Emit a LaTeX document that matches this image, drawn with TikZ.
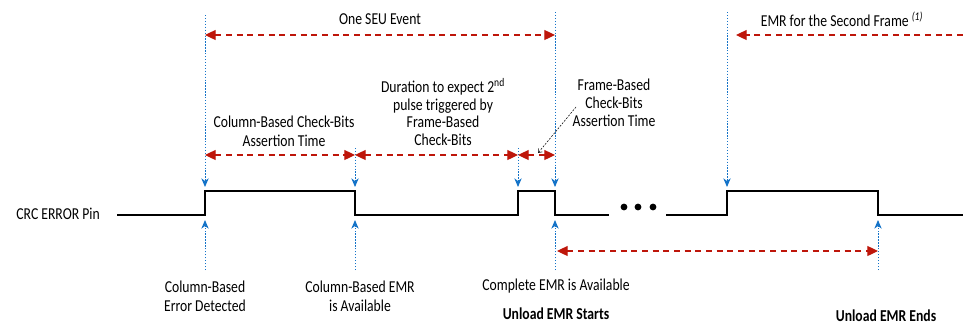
\documentclass[tikz,border=0pt]{standalone}
\usepackage{fontspec}
\setmainfont{Carlito}[FakeStretch=0.82]
\usetikzlibrary{arrows.meta,positioning,calc}
\definecolor{seuRed}{RGB}{190,22,10}
\definecolor{seuBlue}{RGB}{20,115,200}

\begin{document}
\begin{tikzpicture}[
  x=0.75pt, y=-0.75pt,
  lbl/.style={align=center, font=\fontsize{12.5}{14}\selectfont, inner sep=0pt},
  boldlbl/.style={align=center, font=\fontsize{12.5}{14}\selectfont\bfseries, inner sep=0pt},
  span/.style={{Triangle[length=8pt,width=7.5pt]}-{Triangle[length=8pt,width=7.5pt]}, seuRed, line width=0.9pt, dash pattern=on 4.5pt off 3.5pt},
  halfspan/.style={-{Triangle[length=8pt,width=7.5pt]}, seuRed, line width=0.9pt, dash pattern=on 4.5pt off 3.5pt},
  marker/.style={-{Stealth[length=6.5pt,width=5.5pt,inset=2pt]}, seuBlue, line width=0.7pt, dash pattern=on 1pt off 1.2pt},
  leader/.style={-{Straight Barb[length=2.5pt,width=4pt]}, black, thin, dash pattern=on 1.5pt off 1pt},
  signal/.style={line width=2pt, line join=miter}
]
\useasboundingbox (0,0) rectangle (963,326);

% time instants on the signal
\coordinate (t0) at (205,0);
\coordinate (t1) at (355,0);
\coordinate (t2) at (518,0);
\coordinate (t3) at (555,0);
\coordinate (t4) at (727,0);
\coordinate (t5) at (878,0);

% CRC_ERROR waveform
\node[lbl, anchor=east] (pin) at (100,214) {CRC ERROR Pin};
\draw[signal] (117,215) -- (t0 |- 0,215) -- (t0 |- 0,191) -- (t1 |- 0,191) -- (t1 |- 0,215)
  -- (t2 |- 0,215) -- (t2 |- 0,191) -- (t3 |- 0,191) -- (t3 |- 0,215) -- (609,215);
\draw[signal] (666,215) -- (t4 |- 0,215) -- (t4 |- 0,191) -- (t5 |- 0,191) -- (t5 |- 0,215) -- (963,215);
\foreach \dx in {624,638,653}
  \fill (\dx,207) circle (3.4);

% markers from above
\draw[marker] (t0 |- 0,15) -- (t0 |- 0,187);
\draw[marker] (t1 |- 0,148) -- (t1 |- 0,187);
\draw[marker] (t2 |- 0,148) -- (t2 |- 0,187);
\draw[marker] (t3 |- 0,12) -- (t3 |- 0,187);
\draw[marker] (t4 |- 0,12) -- (t4 |- 0,187);

% markers from below
\draw[marker] (t0 |- 0,270) -- (t0 |- 0,220);
\draw[marker] (t1 |- 0,270) -- (t1 |- 0,220);
\draw[marker] (t3 |- 0,270) -- (t3 |- 0,220);
\draw[marker] (t5 |- 0,270) -- (t5 |- 0,220);

% time spans
\node[lbl] (seu) at (380,19) {One SEU Event};
\draw[span] (t0 |- 0,35) -- (t3 |- 0,35);
\node[lbl] (second) at (842,19) {EMR for the Second Frame \textsuperscript{\itshape (1)}};
\coordinate (secondEnd) at (963,35);
\draw[halfspan] (secondEnd) -- (736,35);

\node[lbl, font=\fontsize{12.5}{14.2}\selectfont] (colbits) at (284,131) {Column-Based Check-Bits\\Assertion Time};
\draw[span] (t0 |- 0,155) -- (t1 |- 0,155);
\node[lbl, font=\fontsize{12.5}{13.3}\selectfont] (duration) at (443,112) {Duration to expect 2\textsuperscript{nd}\\pulse triggered by\\Frame-Based\\Check-Bits};
\draw[span] (t1 |- 0,155) -- (t2 |- 0,155);
\node[lbl, font=\fontsize{12.5}{13.3}\selectfont] (framebits) at (614,103) {Frame-Based\\Check-Bits\\Assertion Time};
\draw[span] (t2 |- 0,155) -- (t3 |- 0,155);
\coordinate (leadStart) at (576,107);
\draw[leader] (leadStart) -- (538,153);

\draw[span] (557,251) -- (t5 |- 0,251);

% event labels
\node[lbl] (coldet) at (205,296) {Column-Based\\Error Detected};
\node[lbl] (colemr) at (360,296) {Column-Based EMR\\is Available};
\node[lbl] (complete) at (556,286) {Complete EMR is Available};
\node[boldlbl] (ustart) at (556,314) {Unload EMR Starts};
\node[boldlbl] (uend) at (886,316) {Unload EMR Ends};
\end{tikzpicture}
\end{document}
